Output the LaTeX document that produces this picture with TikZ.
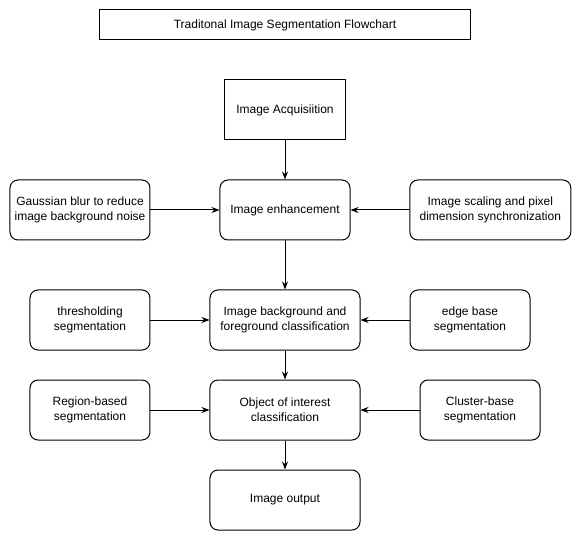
\documentclass[tikz,border=0pt]{standalone}
\usepackage{fontspec}
\setmainfont{Liberation Sans}
\usetikzlibrary{arrows.meta,positioning}

\begin{document}
\begin{tikzpicture}[>={Stealth[length=6pt,width=4.5pt]}, on grid, line width=0.75pt,
   every node/.style={font=\fontsize{9}{11.25}\selectfont, align=center},
   stepbox/.style={draw, rounded corners=6pt, minimum height=45pt}]
   \useasboundingbox (-213.75pt,18.75pt) rectangle (222pt,-387pt);
   \node[draw, minimum width=277.5pt, minimum height=22.5pt] (title) {Traditonal Image Segmentation Flowchart};
   \node[draw, minimum width=90.75pt, minimum height=45pt] (acq) [below=63.75pt of title] {Image Acquisiition};
   \node[stepbox, minimum width=97.5pt]  (enh) [below=75pt of acq]    {Image enhancement};
   \node[stepbox, minimum width=112.5pt] (bg)  [below=82.5pt of enh]  {Image background and\\foreground classification};
   \node[stepbox, minimum width=112.5pt] (obj) [below=67.5pt of bg]   {Object of interest\\classification};
   \node[stepbox, minimum width=112.5pt] (out) [below=67.5pt of obj]  {Image output};
   \node[stepbox, minimum width=105pt]   (gauss) [left=153.75pt of enh]  {Gaussian blur to reduce\\image background noise};
   \node[stepbox, minimum width=120.75pt] (scale) [right=154pt of enh] {Image scaling and pixel\\dimension synchronization};
   \node[stepbox, minimum width=90pt]    (thr)  [left=146.25pt of bg]   {thresholding\\segmentation};
   \node[stepbox, minimum width=90pt]    (edgeb) [right=138.75pt of bg] {edge base\\segmentation};
   \node[stepbox, minimum width=90pt]    (reg)  [left=146.25pt of obj]  {Region-based\\segmentation};
   \node[stepbox, minimum width=90pt]    (clus) [right=146.25pt of obj] {Cluster-base\\segmentation};

   \path[->]
   (acq)   edge (enh)
   (enh)   edge (bg)
   (bg)    edge (obj)
   (obj)   edge (out)
   (gauss) edge (enh)
   (scale) edge (enh)
   (thr)   edge (bg)
   (edgeb) edge (bg)
   (reg)   edge (obj)
   (clus)  edge (obj);
\end{tikzpicture}
\end{document}
